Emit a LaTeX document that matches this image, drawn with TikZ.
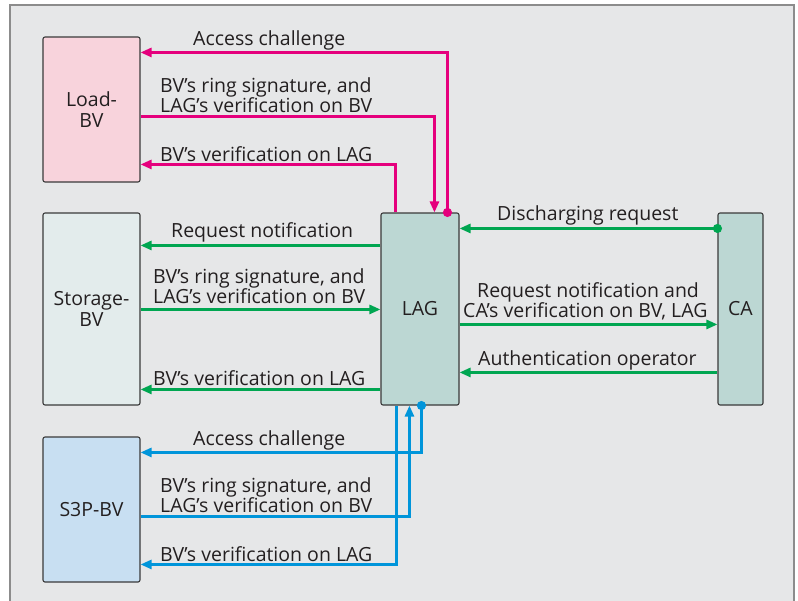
\documentclass[tikz,border=0pt]{standalone}
\usepackage{fontspec}
\setmainfont{Open Sans}
\usetikzlibrary{arrows.meta,calc}
\definecolor{pinkline}{HTML}{E5007D}
\definecolor{greenline}{HTML}{00A651}
\definecolor{blueline}{HTML}{0095DA}
\definecolor{panel}{HTML}{E6E7E8}
\definecolor{framegray}{HTML}{8C8C8C}
\definecolor{boxedge}{HTML}{3A3A3A}
\definecolor{loadfill}{HTML}{F8D3DC}
\definecolor{storefill}{HTML}{E3ECEC}
\definecolor{lagfill}{HTML}{BCD7D3}
\definecolor{s3pfill}{HTML}{C8DFF2}
\definecolor{ink}{HTML}{231F20}
\tikzset{
  unit/.style={draw=boxedge, line width=1.1pt, rounded corners=2pt, align=center,
    inner sep=0pt, text=ink, font=\fontsize{19.5}{21}\selectfont},
  lbl/.style={anchor=base west, inner sep=0pt, text=ink, font=\fontsize{19.5}{21}\selectfont},
  msg/.style={line width=2.6pt, -{Triangle[length=11pt,width=9pt]}},
  pk/.style={msg, draw=pinkline},
  gr/.style={msg, draw=greenline},
  bl/.style={msg, draw=blueline},
}
\begin{document}
\begin{tikzpicture}[x=1pt,y=-1pt]
\useasboundingbox (0,0) rectangle (798,600);
\clip (0,0) rectangle (798,600);
% outer panel
\fill[white] (0,0) rectangle (798,600);
\draw[fill=panel, draw=framegray, line width=2pt] (10,5) rectangle (794,610);

% units
\node[unit, fill=loadfill, minimum width=97pt, minimum height=145pt] (load) at (91.5,109.5) {Load-\\BV};
\node[unit, fill=storefill, minimum width=97pt, minimum height=192pt] (store) at (91.5,309) {Storage-\\BV};
\node[unit, fill=s3pfill, minimum width=97pt, minimum height=145pt] (s3p) at (91.5,509.5) {S3P-BV};
\node[unit, fill=lagfill, minimum width=78pt, minimum height=192pt] (lag) at (420,309) {LAG};
\node[unit, fill=lagfill, minimum width=45pt, minimum height=192pt] (ca) at (740.5,309) {CA};

% Load-BV exchange
\coordinate (pdot) at ($(lag.north west)+(67,0)$);
\draw[pk] (pdot) |- ($(load.north east)+(0,16)$);
\fill[pinkline] (pdot) circle (4.6pt);
\draw[pk] ($(load.north east)+(0,80)$) -| ($(lag.north west)+(54,0)$);
\draw[pk] ($(lag.north west)+(15,0)$) |- ($(load.north east)+(0,128)$);
\node[lbl] (l1) at (193,45) {Access challenge};
\node[lbl] (l2) at (160,92) {BV’s ring signature, and};
\node[lbl] (l3) at (160,112) {LAG’s verification on BV};
\node[lbl] (l4) at (160,161) {BV’s verification on LAG};

% Storage-BV exchange
\draw[gr] ($(lag.north west)+(0,33)$) -- ($(store.north east)+(0,33)$);
\draw[gr] ($(store.north east)+(0,97)$) -- ($(lag.north west)+(0,97)$);
\draw[gr] ($(lag.north west)+(0,177)$) -- ($(store.north east)+(0,177)$);
\node[lbl] (s1) at (171,237) {Request notification};
\node[lbl] (s2) at (153,283) {BV’s ring signature, and};
\node[lbl] (s3) at (153,303) {LAG’s verification on BV};
\node[lbl] (s4) at (153,385) {BV’s verification on LAG};

% CA exchange
\coordinate (gdot) at ($(ca.north west)+(0,16)$);
\draw[gr] (gdot) -- ($(lag.north east)+(0,16)$);
\fill[greenline] (gdot) circle (4.6pt);
\draw[gr] ($(lag.north east)+(0,112)$) -- ($(ca.north west)+(0,112)$);
\draw[gr] ($(ca.north west)+(0,160)$) -- ($(lag.north east)+(0,160)$);
\node[lbl] (c1) at (497,220) {Discharging request};
\node[lbl] (c2) at (477,297) {Request notification and};
\node[lbl] (c3) at (463,317) {CA’s verification on BV, LAG};
\node[lbl] (c4) at (478,365) {Authentication operator};

% S3P-BV exchange
\coordinate (bdot) at ($(lag.south west)+(41,0)$);
\draw[bl] (bdot) |- ($(s3p.north east)+(0,16)$);
\fill[blueline] (bdot) circle (4.6pt);
\draw[bl] ($(s3p.north east)+(0,80)$) -| ($(lag.south west)+(29,0)$);
\draw[bl] ($(lag.south west)+(16,0)$) |- ($(s3p.north east)+(0,128)$);
\node[lbl] (b1) at (193,445) {Access challenge};
\node[lbl] (b2) at (160,492) {BV’s ring signature, and};
\node[lbl] (b3) at (160,512) {LAG’s verification on BV};
\node[lbl] (b4) at (160,561) {BV’s verification on LAG};
\end{tikzpicture}
\end{document}
